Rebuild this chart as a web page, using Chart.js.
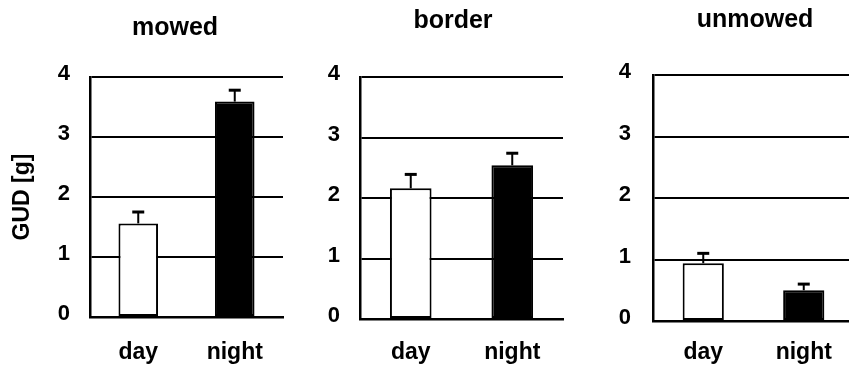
<!DOCTYPE html>
<html><head><meta charset="utf-8">
<script src="https://cdn.jsdelivr.net/npm/chart.js@4.4.1/dist/chart.umd.min.js"></script>
<style>
html,body{margin:0;padding:0;background:#fff;overflow:hidden}
#wrap{position:relative;width:849px;height:372px;overflow:hidden;background:#fff}
canvas{position:absolute;top:0}
</style></head><body>
<div id="wrap">
<canvas id="c1" width="290" height="372" style="left:0px"></canvas>
<canvas id="c2" width="280" height="372" style="left:290px"></canvas>
<canvas id="c3" width="271" height="372" style="left:583px"></canvas>
</div>
<script>
// ---- data ----
const categories = ['day', 'night'];
const panelTitles = ['mowed', 'border', 'unmowed'];
const mowedMeans = [1.56, 3.59];
const mowedErrors = [0.19, 0.19];
const borderMeans = [2.16, 2.54];
const borderErrors = [0.23, 0.20];
const unmowedMeans = [0.94, 0.50];
const unmowedErrors = [0.16, 0.10];
const yTicks = [0, 1, 2, 3, 4];
const yAxisTitle = 'GUD [g]';
const barFills = ['#ffffff', '#000000'];

// ---- layout (per panel) ----
const panels = [
  {id:'c1', title:panelTitles[0], means:mowedMeans, errors:mowedErrors, padRight:7, yWidth:90, titleCenter:175, xHeight:55, xPad:22, tTop:13.3, tBottom:33.7, tickPad:20, yTitle:true},
  {id:'c2', title:panelTitles[1], means:borderMeans, errors:borderErrors, padRight:7, yWidth:70, titleCenter:163, xHeight:53, xPad:20, tTop:6.3, tBottom:40.7, tickPad:20, yTitle:false},
  {id:'c3', title:panelTitles[2], means:unmowedMeans, errors:unmowedErrors, padRight:0, yWidth:70, titleCenter:172, xHeight:51, xPad:18, tTop:5.3, tBottom:39.7, tickPad:22, yTitle:false}
];

const FONT = "'Liberation Sans', Arial, Helvetica, sans-serif";

const errorBarPlugin = {
  id: 'errorBars',
  afterDatasetsDraw(chart, args, opts) {
    const meta = chart.getDatasetMeta(0);
    const ys = chart.scales.y;
    const vals = chart.data.datasets[0].data;
    const ctx = chart.ctx;
    ctx.save();
    ctx.strokeStyle = '#000';
    meta.data.forEach((bar, i) => {
      const yv = ys.getPixelForValue(vals[i]);
      const ye = ys.getPixelForValue(vals[i] + opts.errors[i]);
      ctx.lineWidth = 2;
      ctx.beginPath(); ctx.moveTo(bar.x, yv); ctx.lineTo(bar.x, ye); ctx.stroke();
      ctx.lineWidth = 3;
      ctx.beginPath(); ctx.moveTo(bar.x - 6, ye); ctx.lineTo(bar.x + 6, ye); ctx.stroke();
    });
    ctx.restore();
  }
};

// shift the title block so its text is centred at a chosen x
const titlePlacePlugin = {
  id: 'titlePlace',
  afterLayout(chart, args, opts) {
    const t = chart.titleBlock;
    if (!t) return;
    const half = (t.right - t.left) / 2;
    t.left = opts.center - half;
    t.right = opts.center + half;
  }
};

panels.forEach(p => {
  new Chart(document.getElementById(p.id), {
    type: 'bar',
    data: {
      labels: categories,
      datasets: [{
        data: p.means,
        backgroundColor: barFills,
        borderColor: '#000',
        borderWidth: 2,
        borderSkipped: false,
        categoryPercentage: 1,
        barPercentage: 0.41
      }]
    },
    plugins: [errorBarPlugin, titlePlacePlugin],
    options: {
      responsive: false,
      animation: false,
      layout: { padding: { left: 0, right: p.padRight, top: 0, bottom: 0 } },
      plugins: {
        legend: { display: false },
        tooltip: { enabled: false },
        title: {
          display: true,
          text: p.title,
          color: '#000',
          font: { family: FONT, size: 25, weight: 'bold', lineHeight: 1.2 },
          padding: { top: p.tTop, bottom: p.tBottom }
        },
        titlePlace: { center: p.titleCenter },
        errorBars: { errors: p.errors }
      },
      scales: {
        x: {
          grid: { display: false, drawTicks: false },
          border: { display: true, color: '#000', width: 2.5 },
          ticks: { color: '#000', padding: p.xPad, font: { family: FONT, size: 23, weight: 'bold', lineHeight: 1.2 } },
          afterFit: s => { s.height = p.xHeight; }
        },
        y: {
          min: 0, max: 4,
          afterBuildTicks: s => { s.ticks = yTicks.map(v => ({ value: v })); },
          grid: { color: '#000', lineWidth: 2, drawTicks: false },
          border: { display: true, color: '#000', width: 2.5 },
          ticks: { color: '#000', padding: p.tickPad, labelOffset: -3, font: { family: FONT, size: 22, weight: 'bold', lineHeight: 1.2 } },
          title: {
            display: p.yTitle,
            text: yAxisTitle,
            color: '#000',
            font: { family: FONT, size: 23, weight: 'bold', lineHeight: 1.2 },
            padding: { top: 9, bottom: 0 }
          },
          afterFit: s => { s.width = p.yWidth; }
        }
      }
    }
  });
});
</script>
</body></html>
